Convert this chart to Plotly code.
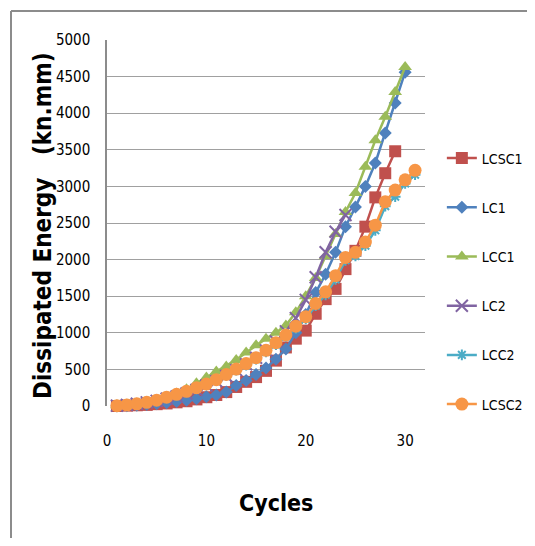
import plotly.graph_objects as go

cycles_lcsc1 = list(range(1, 30))
cycles_lc1 = list(range(1, 31))
cycles_lcc1 = list(range(1, 31))
cycles_lc2 = list(range(1, 25))
cycles_lcc2 = list(range(1, 32))
cycles_lcsc2 = list(range(1, 32))

LCSC1 = [0, 5, 10, 15, 25, 35, 50, 65, 90, 120, 150, 190, 260, 330, 395, 480, 620, 800, 920, 1030,
         1260, 1460, 1600, 1870, 2120, 2450, 2850, 3180, 3480]
LC1 = [0, 5, 10, 20, 30, 45, 60, 80, 100, 125, 150, 190, 280, 350, 430, 520, 640, 780, 1000, 1250,
       1550, 1800, 2100, 2450, 2720, 3000, 3320, 3730, 4140, 4560]
LCC1 = [10, 20, 35, 55, 80, 110, 170, 230, 310, 390, 470, 540, 630, 730, 830, 920, 1000, 1100, 1280, 1500,
        1750, 2050, 2350, 2650, 2910, 3270, 3630, 3950, 4290, 4630]
LC2 = [5, 15, 30, 50, 70, 100, 130, 170, 220, 280, 340, 410, 490, 570, 660, 760, 880, 1020, 1200, 1450,
       1760, 2100, 2380, 2610]
LCC2 = [5, 15, 30, 45, 75, 110, 150, 190, 240, 290, 350, 420, 490, 560, 640, 740, 840, 950, 1060, 1190,
        1370, 1520, 1730, 1990, 2050, 2190, 2400, 2730, 2860, 3040, 3160]
LCSC2 = [5, 15, 30, 50, 80, 120, 160, 200, 250, 300, 360, 430, 505, 580, 660, 760, 865, 970, 1090, 1220,
         1400, 1560, 1780, 2030, 2100, 2240, 2470, 2790, 2950, 3090, 3220]

series_names = ["LCSC1", "LC1", "LCC1", "LC2", "LCC2", "LCSC2"]
x_ticks = [0, 10, 20, 30]
y_ticks = [0, 500, 1000, 1500, 2000, 2500, 3000, 3500, 4000, 4500, 5000]

NARROW = "Liberation Sans Narrow, DejaVu Sans Condensed, Arial Narrow, sans-serif"

styles = [
    dict(color="#C0504D", symbol="square", size=12),
    dict(color="#4F81BD", symbol="diamond", size=10),
    dict(color="#9BBB59", symbol="triangle-up", size=12),
    dict(color="#8064A2", symbol="x-thin-open", size=12),
    dict(color="#4BACC6", symbol="asterisk-open", size=9),
    dict(color="#F79646", symbol="circle", size=13),
]
xs = [cycles_lcsc1, cycles_lc1, cycles_lcc1, cycles_lc2, cycles_lcc2, cycles_lcsc2]
ys = [LCSC1, LC1, LCC1, LC2, LCC2, LCSC2]

fig = go.Figure()
for name, x, y, st in zip(series_names, xs, ys, styles):
    open_sym = st["symbol"].endswith("open")
    fig.add_trace(go.Scatter(
        x=x, y=y, name=name, mode="lines+markers", legendgroup=name,
        line=dict(color=st["color"], width=2.5),
        marker=dict(symbol=st["symbol"], size=st["size"], color=st["color"],
                    line=dict(width=2 if open_sym else 0, color=st["color"])),
        cliponaxis=False,
    ))

bx = (11 - 107) / 318
by = (406 - 11) / 366

# page has an 8px body margin on every side: figure sits at (8, 8) and must fit in 519x530
fig.update_layout(
    width=519, height=530,
    margin=dict(l=99, r=102, t=32, b=132, autoexpand=False),
    paper_bgcolor="white", plot_bgcolor="white",
    font=dict(family=NARROW, size=15, color="#000000"),
    showlegend=True,
    legend=dict(x=1.053, xanchor="left", y=0.720, yanchor="top",
                font=dict(family=NARROW, size=14, color="#000000"),
                tracegroupgap=28, bgcolor="rgba(0,0,0,0)"),
    xaxis=dict(range=[0, 32], tickvals=x_ticks, showgrid=False,
               showline=False, zeroline=False, ticks="", ticklabelstandoff=24,
               tickfont=dict(family=NARROW, size=15)),
    yaxis=dict(range=[0, 5000], tickvals=y_ticks, showgrid=True, gridcolor="#a0a0a0",
               gridwidth=1.3, showline=True, linecolor="#8c8c8c", linewidth=1.5,
               zeroline=False, ticks="", ticklabelstandoff=12,
               tickfont=dict(family=NARROW, size=15)),
    annotations=[
        dict(text="Cycles", xref="paper", yref="paper", x=(276 - 107) / 318, y=(406 - 503) / 366,
             xanchor="center", yanchor="middle", showarrow=False,
             font=dict(family=NARROW, size=23, color="#000000", weight="bold")),
        dict(text="Dissipated Energy\u00a0\u00a0\u00a0(kn.mm)", xref="paper", yref="paper",
             x=(43 - 107) / 318, y=(406 - 226) / 366, textangle=-90,
             xanchor="center", yanchor="middle", showarrow=False,
             font=dict(family=NARROW, size=24, color="#000000", weight="bold")),
    ],
    shapes=[
        dict(type="line", xref="paper", yref="paper", x0=bx, x1=1.5, y0=by, y1=by,
             line=dict(color="#8c8c8c", width=2), layer="below"),
        dict(type="line", xref="paper", yref="paper", x0=bx, x1=bx, y0=by, y1=-0.5,
             line=dict(color="#8c8c8c", width=2), layer="below"),
    ],
)

fig.write_html("out.html")
